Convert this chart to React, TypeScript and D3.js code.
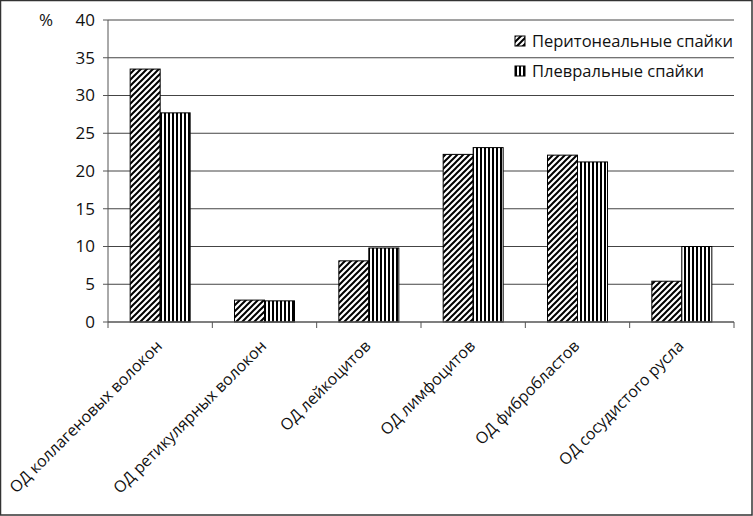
import React from "react";
import * as d3 from "d3";

const categories = [
  "ОД коллагеновых волокон",
  "ОД ретикулярных волокон",
  "ОД лейкоцитов",
  "ОД лимфоцитов",
  "ОД фибробластов",
  "ОД сосудистого русла",
];
const seriesNames = ["Перитонеальные спайки", "Плевральные спайки"];
const peritoneal = [33.5, 2.9, 8.1, 22.2, 22.1, 5.4];
const pleural = [27.7, 2.8, 9.8, 23.1, 21.2, 10.0];
const yTicks = [0, 5, 10, 15, 20, 25, 30, 35, 40];

const W = 753;
const H = 516;
const left = 108;
const right = 734;
const top = 20;
const bottom = 322;
const FONT = "'Open Sans', sans-serif";

export default function App() {
  const x0 = d3
    .scaleBand<string>()
    .domain(categories)
    .range([left, right])
    .paddingInner(0.425)
    .paddingOuter(0.2125);
  const x1 = d3.scaleBand<number>().domain([0, 1]).range([0, x0.bandwidth()]);
  const y = d3.scaleLinear().domain([0, 40]).range([bottom, top]);
  const step = (right - left) / categories.length;
  const series = [peritoneal, pleural];
  const fills = ["url(#diag)", "url(#vert)"];

  return (
    <svg
      width={W}
      height={H}
      style={{ position: "absolute", left: 0, top: 0, background: "#fff" }}
      fontFamily={FONT}
    >
      <defs>
        <pattern id="diag" patternUnits="userSpaceOnUse" width={6} height={6}>
          <rect width={6} height={6} fill="#fff" />
          <path d="M-1,1 l2,-2 M0,6 l6,-6 M5,7 l2,-2" stroke="#000" strokeWidth={2} />
        </pattern>
        <pattern id="vert" patternUnits="userSpaceOnUse" width={4} height={4}>
          <rect width={4} height={4} fill="#fff" />
          <rect x={0} width={2} height={4} fill="#000" />
        </pattern>
      </defs>
      <rect x={0.5} y={0.5} width={W - 1.5} height={H - 1.5} fill="#fff" stroke="#333" strokeWidth={1.5} />

      {/* gridlines */}
      {yTicks.slice(1).map((t) => (
        <line key={t} x1={left} x2={right} y1={y(t)} y2={y(t)} stroke="#444" strokeWidth={1} />
      ))}

      {/* bars */}
      {categories.map((c, i) =>
        series.map((s, j) => (
          <rect
            key={c + j}
            x={(x0(c) as number) + (x1(j) as number)}
            y={y(s[i])}
            width={x1.bandwidth()}
            height={bottom - y(s[i])}
            fill={fills[j]}
            stroke="#000"
            strokeWidth={1}
          />
        ))
      )}

      {/* y axis */}
      <line x1={left} x2={left} y1={top} y2={bottom} stroke="#555" />
      {yTicks.map((t) => (
        <g key={t}>
          <line x1={left - 5} x2={left} y1={y(t)} y2={y(t)} stroke="#555" />
          <text x={left - 13} y={y(t)} dy="0.35em" textAnchor="end" fontSize={17} fill="#111">
            {t}
          </text>
        </g>
      ))}
      <text x={53} y={y(40)} dy="0.35em" textAnchor="end" fontSize={17} fill="#111">
        %
      </text>

      {/* x axis */}
      <line x1={left} x2={right} y1={bottom} y2={bottom} stroke="#555" strokeWidth={1.5} />
      {d3.range(categories.length + 1).map((i) => (
        <line key={i} x1={left + i * step} x2={left + i * step} y1={bottom} y2={bottom + 6} stroke="#555" />
      ))}
      {categories.map((c) => {
        const cx = (x0(c) as number) + x0.bandwidth() / 2;
        return (
          <text
            key={c}
            transform={`translate(${cx + 3},${bottom + 25}) rotate(-45)`}
            textAnchor="end"
            fontSize={16}
            fill="#111"
          >
            {c}
          </text>
        );
      })}

      {/* legend */}
      {seriesNames.map((n, j) => (
        <g key={n} transform={`translate(515,${36 + j * 30})`}>
          <rect x={0} y={0} width={10} height={10} fill={fills[j]} stroke="#000" />
          <text x={17} y={5} dy="0.35em" fontSize={16.5} fill="#111">
            {n}
          </text>
        </g>
      ))}
    </svg>
  );
}
